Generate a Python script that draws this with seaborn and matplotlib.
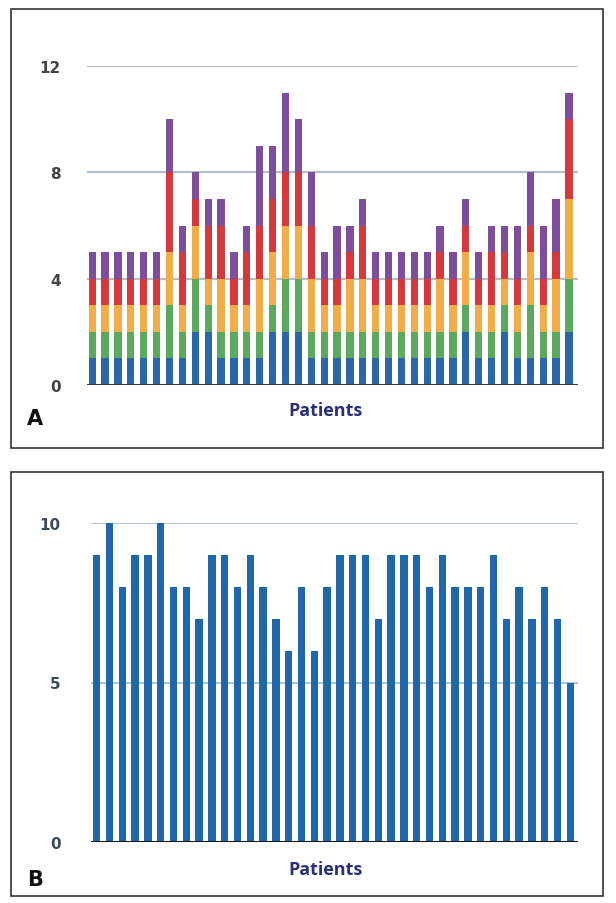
import numpy as np
import pandas as pd
import matplotlib
matplotlib.use("Agg")
import matplotlib.pyplot as plt
import seaborn as sns
from matplotlib.patches import Rectangle

# Panel A: stacked counts per patient (bottom -> top)
patients = [f"P{i}" for i in range(1, 39)]
blue = [1, 1, 1, 1, 1, 1, 1, 1, 2, 2, 1, 1, 1, 1, 2, 2, 2, 1, 1,
        1, 1, 1, 1, 1, 1, 1, 1, 1, 1, 2, 1, 1, 2, 1, 1, 1, 1, 2]
green = [1, 1, 1, 1, 1, 1, 2, 1, 2, 1, 1, 1, 1, 1, 1, 2, 2, 1, 1,
         1, 1, 1, 1, 1, 1, 1, 1, 1, 1, 1, 1, 1, 1, 1, 2, 1, 1, 2]
orange = [1, 1, 1, 1, 1, 1, 2, 1, 2, 1, 2, 1, 1, 2, 2, 2, 2, 2, 1,
          1, 2, 2, 1, 1, 1, 1, 1, 2, 1, 2, 1, 1, 1, 1, 2, 1, 2, 3]
red = [1, 1, 1, 1, 1, 1, 3, 2, 1, 2, 2, 1, 2, 2, 2, 2, 2, 2, 1,
       1, 1, 2, 1, 1, 1, 1, 1, 1, 1, 1, 1, 2, 1, 1, 1, 1, 1, 3]
purple = [1, 1, 1, 1, 1, 1, 2, 1, 1, 1, 1, 1, 1, 3, 2, 3, 2, 2, 1,
          2, 1, 1, 1, 1, 1, 1, 1, 1, 1, 1, 1, 1, 1, 2, 2, 2, 2, 1]

# Panel B: one score per patient
scores = [9, 10, 8, 9, 9, 10, 8, 8, 7, 9, 9, 8, 9, 8, 7, 6, 8, 6, 8,
          9, 9, 9, 7, 9, 9, 9, 8, 9, 8, 8, 8, 9, 7, 8, 7, 8, 7, 5]

layers = [("blue", blue, "#2b67a8"), ("green", green, "#5aa95c"),
          ("orange", orange, "#f2ad48"), ("red", red, "#d7383c"),
          ("purple", purple, "#7d4e9c")]

W, H = 616, 904
fig = plt.figure(figsize=(W / 100, H / 100), dpi=100)
sns.set_style("white")

def fx(px):
    return px / W

def fy(py):
    return 1 - py / H

# panel frames
for top, bottom in [(10, 449), (473, 897)]:
    fig.patches.append(Rectangle((fx(11), fy(bottom)), fx(603) - fx(11), fy(top) - fy(bottom),
                                 transform=fig.transFigure, fill=False,
                                 edgecolor="#333333", linewidth=1.2))

# ---- Panel A ----
axA = fig.add_axes([fx(87), fy(386), fx(578) - fx(87), fy(67) - fy(386)])
df = pd.DataFrame({"patient": patients})
cum = np.zeros(len(patients))
tops = []
for name, vals, col in layers:
    cum = cum + np.array(vals)
    tops.append((cum.copy(), col))
# draw tallest cumulative first so lower layers sit on top
for heights, col in reversed(tops):
    sns.barplot(x=df["patient"], y=heights, color=col, width=0.56, ax=axA,
                errorbar=None, saturation=1, linewidth=0)
axA.set_ylim(0, 12)
axA.set_xlim(-0.4, 37.7)
axA.set_yticks([0, 4, 8, 12])
axA.set_xticks([])
axA.set_xlabel("")
axA.set_ylabel("")
for y in [4, 8, 12]:
    axA.axhline(y, color="#b4bec6", linewidth=1.6, zorder=0)
axA.axhline(0, color="#3a3a3a", linewidth=2.2, zorder=5)
for s in axA.spines.values():
    s.set_visible(False)
axA.tick_params(axis="y", length=0, pad=19, labelsize=11, labelcolor="#444444")
for t in axA.get_yticklabels():
    t.set_fontweight("bold")
axA.set_facecolor("none")

fig.text(fx(325), fy(411), "Patients", ha="center", va="center",
         fontsize=13, fontweight="bold", color="#2b2f78", family="Open Sans")
fig.text(fx(27), fy(419), "A", ha="left", va="center",
         fontsize=15, fontweight="bold", color="#111111")

# ---- Panel B ----
axB = fig.add_axes([fx(91), fy(843), fx(578) - fx(91), fy(524) - fy(843)])
sns.barplot(x=patients, y=scores, color="#1f67a8", width=0.58, ax=axB,
            errorbar=None, saturation=1, linewidth=0)
axB.set_ylim(0, 10)
axB.set_xlim(-0.45, 37.6)
axB.set_yticks([0, 5, 10])
axB.set_xticks([])
axB.set_xlabel("")
axB.set_ylabel("")
for y in [5, 10]:
    axB.axhline(y, color="#a9c6d6", linewidth=1.4, zorder=0)
axB.axhline(0, color="#1a1a1a", linewidth=2.2, zorder=5)
for s in axB.spines.values():
    s.set_visible(False)
axB.tick_params(axis="y", length=0, pad=22, labelsize=11, labelcolor="#3d4a57")
for t in axB.get_yticklabels():
    t.set_fontweight("bold")
axB.set_facecolor("none")

fig.text(fx(325), fy(870), "Patients", ha="center", va="center",
         fontsize=13, fontweight="bold", color="#2b2f78", family="Open Sans")
fig.text(fx(27), fy(880), "B", ha="left", va="center",
         fontsize=15, fontweight="bold", color="#111111")

fig.savefig("out.png", dpi=100)
